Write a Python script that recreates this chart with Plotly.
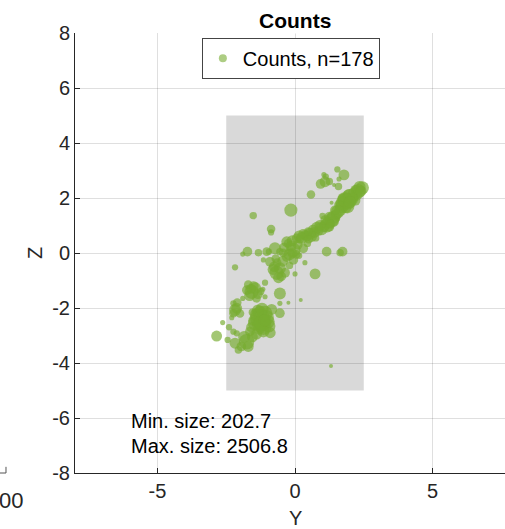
import plotly.graph_objects as go

# ---- data ----
y_vals = [
    1.54, 1.78, 1.12, 1.09, 0.93, 1.42, 1.60, 0.58, -0.15, 1.33,
    2.45, 2.30, 2.15, 2.00, 1.85, 1.75, 1.90, 1.70, 1.64, 1.50,
    1.40, 1.33, 1.20, 1.15, 1.05, 0.95, 0.85, 0.70, 0.55, 0.42,
    0.36, 0.25, 0.06, 0.18, 1.55, 2.20, 1.95, 2.10,
    -1.52, -0.87, -0.87, -0.30, -0.73, -1.03, -1.33, -1.73, -1.90, -0.43,
    -0.06, 0.30, -0.06, 0.36, 1.15, 1.64, 1.73, -0.91, -0.67, -0.36,
    0.00, 0.73, -2.18, -0.55, -0.20, -0.45, -0.15, 0.05, -0.75, -0.60,
    -1.58, -1.45, -1.65, -1.50, -1.09, -1.17, -0.55, -1.09, -0.55, -0.24,
    0.21, -2.24, -2.18, -2.12, -2.24, -1.27, -0.55, -1.27, -1.15, -1.45,
    -1.64, -1.76, -2.12, -2.18, -2.06, -2.63, -2.85, -2.45, -2.24, 1.31,
    -1.10, -1.40, -1.00, -1.30, -1.50, -1.90, -1.35, -2.30,
    2.35, 2.25, 2.05, 1.95, 1.80, 1.85, 1.60, 1.55, 1.45, 1.40,
    1.25, 1.10, 1.25, 0.90, 0.80, 0.65, 0.60, 0.48, 0.30, 0.15,
    2.40, 2.20, 1.70, 1.00, 0.75, 1.58, 1.25, 1.05,
    -0.40, -0.25, -0.10, 0.10, -0.55, -0.30, -0.65, -0.80, -0.50, 0.15,
    -0.95, -0.20, 0.45, -1.15,
    -1.20, -1.05, -0.95, -1.20, -1.35, -1.15, -1.40, -1.55, -1.85, -1.95,
    -1.70, -1.60, -2.00, -2.10, -1.75, -1.70, -1.40, -1.25, -0.85, -0.90,
    -2.40, -1.55,
    2.00, 1.30, 0.50, -0.10, -0.70, -1.30, -1.10, -1.60,
]
z_vals = [
    3.04, 2.84, 2.78, 2.59, 2.51, 2.47, 2.69, 2.13, 1.56, 1.83,
    2.37, 2.25, 2.15, 2.05, 1.90, 1.80, 1.70, 1.68, 1.55, 1.40,
    1.30, 1.20, 1.10, 1.00, 0.95, 0.88, 0.80, 0.75, 0.70, 0.62,
    0.65, 0.55, 0.53, 0.50, 1.25, 2.30, 1.80, 2.00,
    1.36, 0.87, 0.75, 0.41, 0.17, 0.05, 0.01, 0.05, -0.04, 0.01,
    0.11, 0.17, -0.25, -0.35, 0.05, 0.01, 0.05, -0.32, -0.72, -0.72,
    -0.76, -0.76, -0.52, -0.55, -0.05, -0.30, 0.25, -0.05, -0.50, -0.90,
    -1.41, -1.28, -1.55, -1.20, -1.08, -1.32, -1.47, -1.59, -1.83, -1.81,
    -1.71, -1.83, -2.07, -2.01, -2.19, -2.19, -2.19, -2.38, -2.68, -2.56,
    -2.86, -3.23, -2.92, -3.28, -3.53, -2.53, -3.02, -3.16, -2.86, -4.11,
    -2.20, -2.25, -2.50, -2.75, -2.45, -1.65, -1.50, -2.35,
    2.40, 2.10, 1.95, 2.10, 1.95, 1.65, 1.75, 1.50, 1.55, 1.15,
    1.30, 1.20, 0.95, 1.00, 0.92, 0.85, 0.60, 0.78, 0.70, 0.62,
    2.25, 1.90, 2.00, 1.35, 0.55, 2.42, 2.60, 2.85,
    0.20, 0.35, 0.45, 0.30, 0.05, -0.15, -0.35, -0.60, -0.85, -0.10,
    0.05, -0.45, 0.35, -0.25,
    -2.05, -2.35, -2.65, -2.55, -2.10, -2.85, -2.95, -3.05, -3.05, -3.40,
    -3.40, -2.70, -2.20, -1.80, -1.35, -1.15, -1.65, -1.40, -2.05, -2.90,
    -2.70, -2.15,
    1.85, 1.05, 0.50, 0.00, -0.20, -2.60, -2.45, -1.30,
]
counts = [
    532, 1190, 532, 1190, 1026, 203, 367, 861, 1520, 203,
    1520, 1684, 1520, 1849, 2013, 1849, 1684, 1520, 1355, 1190,
    1520, 1684, 1355, 1684, 1190, 1520, 1026, 1190, 1355, 1190,
    1026, 1355, 1026, 861, 367, 1026, 1355, 1190,
    697, 861, 532, 1190, 1355, 861, 697, 1026, 367, 861,
    1684, 1026, 1026, 367, 1026, 697, 1026, 1026, 1684, 1026,
    367, 1190, 532, 1355, 1355, 1190, 1190, 861, 1190, 1190,
    1684, 1355, 1190, 1026, 532, 367, 1355, 367, 367, 203,
    203, 532, 1355, 1190, 861, 1684, 1026, 2506.8, 2013, 1684,
    1026, 1849, 532, 1190, 697, 367, 1190, 532, 532, 202.7,
    1849, 1520, 1684, 1355, 1190, 367, 1026, 367,
    1355, 1190, 1520, 1355, 1684, 1190, 1026, 1520, 1026, 1190,
    1190, 1026, 1026, 1190, 1355, 1026, 1190, 861, 1026, 1190,
    1190, 1026, 697, 532, 697, 697, 697, 367,
    1026, 861, 1190, 1026, 697, 1026, 861, 1190, 1026, 532,
    532, 697, 697, 367,
    1520, 1849, 1520, 2013, 1355, 1355, 1190, 1190, 1355, 1026,
    1190, 1026, 861, 861, 1026, 861, 861, 697, 1190, 1190,
    532, 697,
    1355, 861, 861, 1026, 861, 1684, 1355, 1026,
]
legend_name = "Counts, n=178"
title_text = "Counts"
min_text = "Min. size: 202.7"
max_text = "Max. size: 2506.8"
x_ticks = [-5, 0, 5]
y_ticks = [-8, -6, -4, -2, 0, 2, 4, 6, 8]

# ---- styling ----
GREEN = "rgb(119,172,48)"
FONT = "Liberation Sans, Arial, sans-serif"
FS = 20
cmin, cmax = min(counts), max(counts)
diam = [4 + (c - cmin) / (cmax - cmin) * 16 for c in counts]

fig = go.Figure()
fig.add_trace(go.Scatter(
    x=y_vals, y=z_vals, mode="markers", showlegend=False,
    marker=dict(size=diam, color=GREEN, opacity=0.68, line=dict(width=0)),
    hoverinfo="skip"))
fig.add_trace(go.Scatter(
    x=[None], y=[None], mode="markers", name=legend_name,
    marker=dict(size=8, color=GREEN, opacity=0.6, line=dict(width=0))))

fig.add_shape(type="rect", x0=-2.5, x1=2.5, y0=-5, y1=5, xref="x", yref="y",
              fillcolor="rgb(217,217,217)", line=dict(width=0), layer="below")

# fragment of neighbouring axes (cut off at left)
fig.add_shape(type="line", xref="paper", yref="paper", x0=-0.1744, x1=-0.1605,
              y0=0, y1=0, line=dict(color="#555555", width=1))
fig.add_shape(type="line", xref="paper", yref="paper", x0=-0.1605, x1=-0.1605,
              y0=0, y1=0.014, line=dict(color="#555555", width=1))

grid = "rgba(38,38,38,0.15)"
axis_common = dict(showline=True, linecolor="#262626", linewidth=1, ticks="inside",
                   ticklen=5, tickcolor="#262626", showgrid=True, gridcolor=grid,
                   zeroline=False, tickfont=dict(family=FONT, size=FS, color="#262626"),
                   mirror=False)
fig.update_xaxes(range=[-8, 7.636], tickvals=x_ticks,
                 ticktext=[str(v) for v in x_ticks], **axis_common)
fig.update_yaxes(range=[-8, 8], tickvals=y_ticks,
                 ticktext=[str(v) for v in y_ticks], **axis_common)

fig.add_annotation(text="<b>" + title_text + "</b>", xref="x", yref="paper", x=0, y=1.0295,
                   showarrow=False, font=dict(family=FONT, size=21, color="black"),
                   bgcolor="white", xanchor="center", yanchor="middle")
fig.add_annotation(text="Y", xref="x", yref="paper", x=0, y=-0.102, showarrow=False,
                   font=dict(family=FONT, size=FS, color="#262626"), yanchor="middle")
fig.add_annotation(text="Z", xref="paper", yref="y", x=-0.093, y=0, showarrow=False,
                   textangle=-90, font=dict(family=FONT, size=FS, color="#262626"),
                   xanchor="center")
fig.add_annotation(text=min_text, xref="x", yref="y", x=-6.05, y=-6.1, showarrow=False,
                   xanchor="left", font=dict(family=FONT, size=FS, color="black"))
fig.add_annotation(text=max_text, xref="x", yref="y", x=-6.05, y=-7.02, showarrow=False,
                   xanchor="left", font=dict(family=FONT, size=FS, color="black"))
fig.add_annotation(text="00", xref="paper", yref="paper", x=-0.1163, y=-0.0614,
                   showarrow=False, xanchor="right", yanchor="middle",
                   font=dict(family=FONT, size=22, color="#262626"))

fig.update_layout(
    width=505, height=529, margin=dict(l=75, r=0, t=33, b=56),
    plot_bgcolor="white", paper_bgcolor="white",
    font=dict(family=FONT, color="#262626"),
    legend=dict(x=0.295, y=0.989, xanchor="left", yanchor="top",
                bordercolor="#444444", borderwidth=1, bgcolor="white",
                font=dict(family=FONT, size=FS, color="black")),
)
fig.write_html("out.html", config={"displayModeBar": False},
               post_script="document.body.style.margin='0px';")
